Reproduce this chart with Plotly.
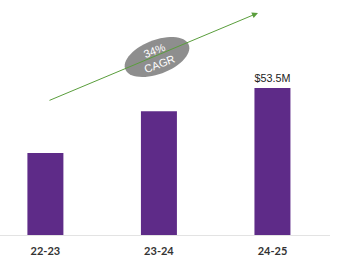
import numpy as np
import plotly.graph_objects as go

categories = ["22-23", "23-24", "24-25"]
revenue = [29.8, 45.0, 53.5]
labels = ["", "", "$53.5M"]
cagr_text = "34%<br>CAGR"

W, H = 349, 260
ml, mr, mt, mb = 0, 19, 0, 25
xr = [-0.4, 2.507]
yr = [0, 85.5]
pw, ph = W - ml - mr, H - mt - mb

def px2data(px, py):
    x = xr[0] + (px - ml) / pw * (xr[1] - xr[0])
    y = yr[0] + (H - mb - py) / ph * (yr[1] - yr[0])
    return x, y

fig = go.Figure()
fig.add_trace(go.Bar(
    x=list(range(len(categories))), y=revenue, width=0.317,
    marker=dict(color="#5e2b88", line=dict(width=0)),
    text=labels, textposition="outside", cliponaxis=False,
    textfont=dict(family="Liberation Sans", size=12, color="#222222"),
))

# arrow
x0, y0 = px2data(48, 101)
x1, y1 = px2data(258, 13)
fig.add_annotation(x=x1, y=y1, ax=x0, ay=y0, xref="x", yref="y", axref="x", ayref="y",
                   showarrow=True, arrowhead=2, arrowsize=1.2, arrowwidth=1,
                   arrowcolor="#5a9e3c", text="")

# ellipse
cx, cy = 157, 57
a, b = 34, 17
ang = np.deg2rad(-21)
t = np.linspace(0, 2 * np.pi, 60)
ex = cx + a * np.cos(t) * np.cos(ang) - b * np.sin(t) * np.sin(ang)
ey = cy + a * np.cos(t) * np.sin(ang) + b * np.sin(t) * np.cos(ang)
pts = [px2data(u, v) for u, v in zip(ex, ey)]
path = "M " + " L ".join(f"{p[0]:.4f},{p[1]:.4f}" for p in pts) + " Z"
fig.add_shape(type="path", path=path, xref="x", yref="y",
              fillcolor="#8e8e8e", line=dict(width=0), layer="above")
tx, ty = px2data(cx, cy)
fig.add_annotation(x=tx, y=ty, xref="x", yref="y", text=cagr_text, showarrow=False,
                   textangle=-21, font=dict(family="Liberation Sans", size=11, color="white"))

fig.update_layout(
    width=W, height=H, margin=dict(l=ml, r=mr, t=mt, b=mb),
    paper_bgcolor="white", plot_bgcolor="white", showlegend=False,
)
fig.update_xaxes(range=xr, tickvals=list(range(len(categories))), ticktext=categories,
                 showgrid=False, zeroline=False, showline=True, linecolor="#e3e3e3",
                 linewidth=1, ticks="", ticklabelstandoff=6,
                 tickfont=dict(family="Lato", size=11, color="#333333", weight="bold"))
fig.update_yaxes(range=yr, visible=False, showgrid=False)

fig.write_html("out.html")
